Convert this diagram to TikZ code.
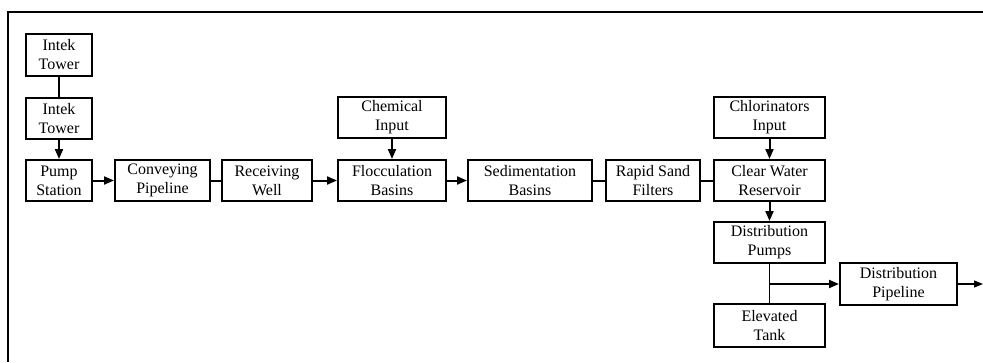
\documentclass[tikz,border=0pt]{standalone}
\usepackage{fontspec}
\setmainfont{Liberation Serif}
\usetikzlibrary{arrows.meta}
\tikzset{
	unit/.style={draw, rectangle, line width=2pt, align=center, inner sep=0pt, minimum height=41pt, font=\fontsize{16}{19}\selectfont},
	link/.style={line width=2pt},
	flow/.style={line width=2pt, -{Triangle[length=10pt,width=8pt]}},
	thinflow/.style={line width=1.1pt, -{Triangle[length=9pt,width=7pt]}}
}
\begin{document}
\begin{tikzpicture}[x=1pt, y=-1pt]
	\useasboundingbox (0,0) rectangle (983,362);
	% frame
	\draw[line width=1.6pt] (983,12) -- (8,12) -- (8,362);
	% treatment line
	\def\rowY {180.5};
	\foreach \name/\label/\x/\w in {pump/{Pump\\Station}/59/66, conveying/{Conveying\\Pipeline}/162.5/95, receiving/{Receiving\\Well}/267/90, flocculation/{Flocculation\\Basins}/392/108, sedimentation/{Sedimentation\\Basins}/530/124, filters/{Rapid Sand\\Filters}/653/94, reservoir/{Clear Water\\Reservoir}/769.5/111}
	{
		\node[unit, minimum width=\w pt] (\name) at (\x,\rowY) {\label};
	}
	% intake and inputs
	\node[unit, minimum width=66pt, minimum height=42pt] (intek_1) at (59,55) {Intek\\Tower};
	\node[unit, minimum width=66pt] (intek_2) at (59,118.5) {Intek\\Tower};
	\node[unit, minimum width=108pt] (chemical) at (392,117.5) {Chemical\\Input};
	\node[unit, minimum width=111pt] (chlorinators) at (769.5,117.5) {Chlorinators\\Input};
	% distribution
	\node[unit, minimum width=111pt] (dist_pumps) at (769.5,242.5) {Distribution\\Pumps};
	\node[unit, minimum width=111pt, minimum height=43pt] (elevated_tank) at (769.5,325.5) {Elevated\\Tank};
	\node[unit, minimum width=117pt, minimum height=42pt] (dist_pipeline) at (898.5,284) {Distribution\\Pipeline};
	% connections
	\draw[link] (intek_1) -- (intek_2);
	\draw[flow] (intek_2) -- (pump);
	\draw[flow] (pump) -- (conveying);
	\draw[link] (conveying) -- (receiving);
	\draw[flow] (receiving) -- (flocculation);
	\draw[flow] (chemical) -- (flocculation);
	\draw[flow] (flocculation) -- (sedimentation);
	\draw[link] (sedimentation) -- (filters);
	\draw[link] (filters) -- (reservoir);
	\draw[flow] (chlorinators) -- (reservoir);
	\draw[flow] (reservoir) -- (dist_pumps);
	\draw[line width=1.4pt] (dist_pumps) -- (elevated_tank);
	\coordinate (branch) at (dist_pumps |- dist_pipeline);
	\draw[flow] (branch) -- (dist_pipeline);
	\coordinate (outlet) at (983,284);
	\draw[thinflow] (dist_pipeline) -- (outlet);
\end{tikzpicture}
\end{document}
